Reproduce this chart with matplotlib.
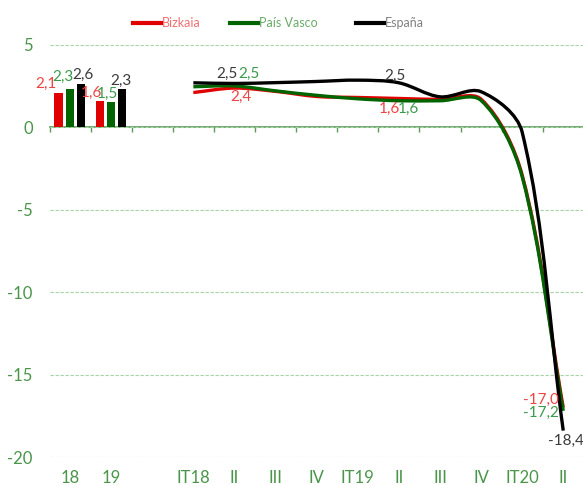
import numpy as np
import matplotlib
matplotlib.use("Agg")
import matplotlib.pyplot as plt
from matplotlib.path import Path
from matplotlib.patches import PathPatch
from matplotlib.lines import Line2D

# ---------------- data ----------------
categories = ['18', '19', '', 'IT18', 'II', 'III', 'IV', 'IT19', 'II', 'III', 'IV', 'IT20', 'II']
series_names = ['Bizkaia', 'País Vasco', 'España']

# annual bars (2018, 2019)
annual_bizkaia = [2.1, 1.6]
annual_pvasco = [2.3, 1.5]
annual_espana = [2.6, 2.3]

# quarterly lines (IT18 .. II 2020)
q_bizkaia = [2.1, 2.37, 2.17, 1.86, 1.8, 1.74, 1.68, 1.7, -2.9, -17.0]
q_pvasco = [2.45, 2.5, 2.2, 1.93, 1.72, 1.6, 1.6, 1.62, -3.0, -17.2]
q_espana = [2.69, 2.65, 2.7, 2.77, 2.85, 2.69, 1.84, 2.15, -0.3, -18.4]

# data labels on the lines: (series index, quarter index, text)
line_labels = [(2, 1, '2,5'), (1, 1, '2,5'), (0, 1, '2,4'),
               (2, 5, '2,5'), (0, 5, '1,6'), (1, 5, '1,6'),
               (0, 9, '-17,0'), (1, 9, '-17,2'), (2, 9, '-18,4')]
# offsets in pixels (dx, dy up) for line labels, same order
line_label_offsets = [(-7.5, 10), (14, 12.5), (6, -9),
                      (-3.5, 7), (-9, -10.5), (10, -8.5),
                      (-22, 7.5), (-22, -2), (3, -10)]
bar_label_offsets = [[(-12.5, 9), (-8.5, 7.6)],
                     [(-7, 12), (-3.5, 9)],
                     [(2, 9), (-0.5, 8)]]

# ---------------- style ----------------
line_colors = ['#E00000', '#006400', '#000000']
label_colors = ['#EE4444', '#3C9A4C', '#3A3A3A']
legend_text_colors = ['#F07070', '#6AAA6A', '#808080']
axis_green = '#5A9A5A'
tick_green = '#4A954A'
grid_green = '#A6D4A6'

plt.rcParams['font.family'] = ['Lato', 'DejaVu Sans']

W, H = 583, 486
fig = plt.figure(figsize=(W / 100, H / 100), dpi=100)
left_px, right_px = 49.5, 583.8
top_px, bot_px = 44.7, 457.0
ax = fig.add_axes([left_px / W, 1 - bot_px / H, (right_px - left_px) / W, (bot_px - top_px) / H])

n = len(categories)
ax.set_xlim(-0.5, n - 0.5)
ax.set_ylim(-20, 5)

# bars
annual = [annual_bizkaia, annual_pvasco, annual_espana]
bw = 0.2
offs = [-0.28, 0.0, 0.26]
for s in range(3):
    xs = np.arange(len(annual[s])) + offs[s]
    ax.bar(xs, annual[s], width=bw, color=line_colors[s], zorder=3)
    for i, v in enumerate(annual[s]):
        dx, dy = bar_label_offsets[s][i]
        ax.annotate(f'{v:.1f}'.replace('.', ','), (xs[i], v),
                    xytext=(dx * 0.72, dy * 0.72), textcoords='offset points',
                    ha='center', va='center', fontsize=11, color=label_colors[s], zorder=6)

# smooth lines (Excel-like smoothing: chord-length scaled Bezier in screen space)
quarters = [q_bizkaia, q_pvasco, q_espana]
qx = np.arange(3, n)


def smooth_path(x, y):
    pts = ax.transData.transform(np.column_stack([x, y]).astype(float))
    m = len(pts)
    verts = [pts[0]]
    codes = [Path.MOVETO]
    for i in range(m - 1):
        p0 = pts[i - 1] if i > 0 else pts[i]
        p1 = pts[i]
        p2 = pts[i + 1]
        p3 = pts[i + 2] if i + 2 < m else pts[i + 1]
        d01 = np.hypot(*(p1 - p0))
        d12 = np.hypot(*(p2 - p1))
        d23 = np.hypot(*(p3 - p2))
        c1 = p1 + (p2 - p0) * d12 / (d01 + d12) / 3.0
        c2 = p2 - (p3 - p1) * d12 / (d12 + d23) / 3.0
        verts += [c1, c2, p2]
        codes += [Path.CURVE4] * 3
    verts = ax.transData.inverted().transform(np.array(verts))
    return Path(verts, codes)


for s in range(3):
    patch = PathPatch(smooth_path(qx, quarters[s]), facecolor='none',
                      edgecolor=line_colors[s], lw=2.4, zorder=4 + s * 0.1,
                      capstyle='butt', joinstyle='round')
    ax.add_patch(patch)

for (s, qi, txt), (dx, dy) in zip(line_labels, line_label_offsets):
    ax.annotate(txt, (qx[qi], quarters[s][qi]), xytext=(dx * 0.72, dy * 0.72),
                textcoords='offset points', ha='center', va='center',
                fontsize=11, color=label_colors[s], zorder=6)

# axes styling
for sp in ax.spines.values():
    sp.set_visible(False)
ax.set_yticks([-20, -15, -10, -5, 0, 5])
ax.set_yticklabels(['-20', '-15', '-10', '-5', '0', '5'])
ax.set_xticks(np.arange(n))
ax.set_xticklabels(categories)
ax.tick_params(axis='both', length=0, colors=tick_green, labelsize=12)
ax.tick_params(axis='y', pad=12)
ax.tick_params(axis='x', pad=9.5)
ax.yaxis.grid(True, color=grid_green, lw=0.8, ls=(0, (3, 1.5)), zorder=0)
ax.set_axisbelow(True)

# zero axis with tick marks at category boundaries
sec = ax.secondary_xaxis(0, transform=ax.transData)
sec.set_xticks(np.arange(n + 1) - 0.5)
sec.tick_params(direction='out', length=3.5, width=1, color=axis_green, labelbottom=False)
sec.spines['bottom'].set_color(axis_green)
sec.spines['bottom'].set_linewidth(1.2)

# legend (three entries)
legend_x_px = [133, 230, 356]
for s in range(3):
    h = Line2D([], [], color=line_colors[s], lw=3)
    fig.legend([h], [series_names[s]], loc='center left',
               bbox_to_anchor=(legend_x_px[s] / W, 1 - 23 / H),
               frameon=False, borderpad=0, borderaxespad=0,
               handlelength=2.2, handletextpad=0.1, fontsize=9,
               labelcolor=legend_text_colors[s])

fig.savefig('out.png', dpi=100)
